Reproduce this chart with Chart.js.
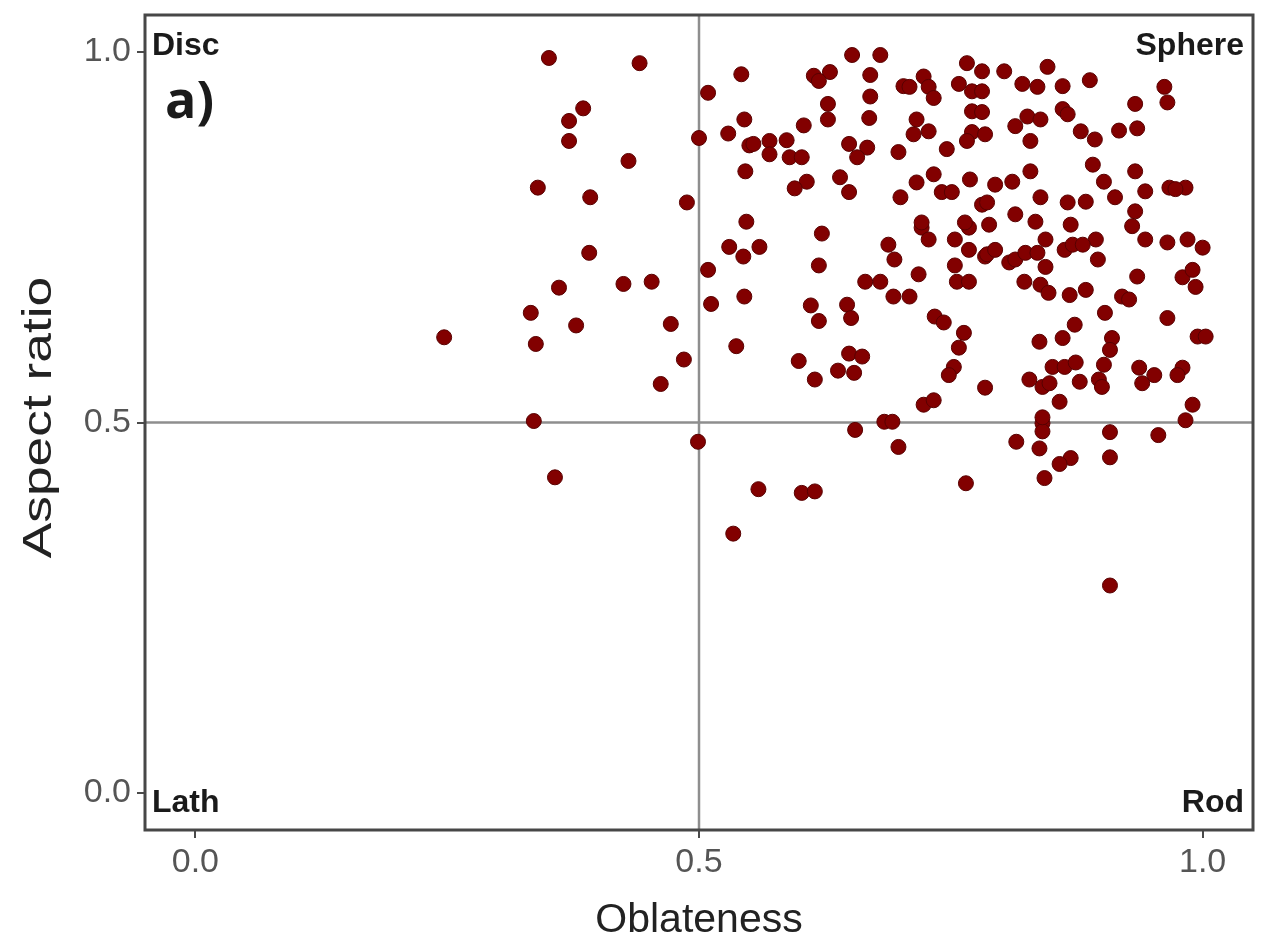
<!DOCTYPE html>
<html>
<head>
<meta charset="utf-8">
<script src="https://cdn.jsdelivr.net/npm/chart.js@4.4.0/dist/chart.umd.min.js"></script>
<style>
    html, body { margin: 0; padding: 0; background: #fff; }
    #wrap { width: 1267px; height: 951px; position: relative; }
</style>
</head>
<body>
<div id="wrap"><canvas id="shapeChart"></canvas></div>
<script>
// Particle shape data (oblateness vs aspect ratio)
const oblateness = [
    0.351, 0.441, 0.542, 0.509, 0.385, 0.545, 0.371, 0.529, 0.500, 0.550, 0.371, 0.430, 0.546, 0.340, 0.392, 0.488, 0.547,
    0.530, 0.544, 0.391, 0.509, 0.361, 0.425, 0.453, 0.545, 0.512, 0.333, 0.378, 0.472, 0.338, 0.537, 0.485, 0.462, 0.336,
    0.499, 0.357, 0.534, 0.247, 0.655, 0.684, 0.692, 0.698, 0.559, 0.602, 0.615, 0.765,
    0.841, 0.841, 0.908, 0.956, 0.983, 0.815, 0.838, 0.869, 0.858, 0.908, 0.843, 0.908,
    0.622, 0.560, 0.619, 0.721, 0.728, 0.754, 0.768, 0.768, 0.784, 0.688,
    0.694, 0.665, 0.680, 0.718, 0.754, 0.756, 0.768, 0.693, 0.709, 0.611,
    0.619, 0.647, 0.651, 0.734, 0.743, 0.763, 0.758, 0.599, 0.649, 0.662,
    0.638, 0.654, 0.615, 0.753, 0.748, 0.784, 0.723, 0.733,
    0.652, 0.680, 0.614, 0.630, 0.619, 0.670, 0.766, 0.781, 0.703, 0.709,
    0.723, 0.728, 0.733, 0.758, 0.771, 0.781, 0.670, 0.628, 0.628, 0.669,
    0.771, 0.781, 0.604, 0.716, 0.713, 0.728, 0.771, 0.766, 0.554, 0.570,
    0.587, 0.570, 0.590, 0.602, 0.649, 0.667, 0.657, 0.698, 0.746, 0.607,
    0.595, 0.640, 0.649, 0.716, 0.733, 0.741, 0.751, 0.769, 0.700, 0.781,
    0.721, 0.764,
    0.803, 0.846, 0.821, 0.836, 0.861, 0.888, 0.962, 0.965, 0.933, 0.861,
    0.866, 0.814, 0.826, 0.839, 0.784, 0.829, 0.879, 0.893, 0.917, 0.935,
    0.891, 0.902, 0.913, 0.933, 0.943, 0.967, 0.983, 0.973, 0.794, 0.811,
    0.829, 0.786, 0.839, 0.866, 0.884, 0.814, 0.834, 0.869, 0.933, 0.930,
    0.788,
    0.844, 0.863, 0.871, 0.894, 0.881, 0.943, 0.965, 0.985, 1.000, 0.786,
    0.794, 0.808, 0.814, 0.824, 0.836, 0.844, 0.896, 0.823, 0.839, 0.847,
    0.868, 0.884, 0.935, 0.920, 0.927, 0.980, 0.990, 0.993, 0.903, 0.965,
    0.873, 0.838, 0.861, 0.910, 0.908, 0.995, 1.003, 0.851, 0.863, 0.874,
    0.902, 0.937, 0.952, 0.980, 0.975, 0.828, 0.841, 0.848, 0.878, 0.897,
    0.900, 0.940, 0.858, 0.990, 0.841
];
const aspectRatio = [
    0.992, 0.985, 0.970, 0.945, 0.924, 0.909, 0.907, 0.890, 0.884, 0.874, 0.880, 0.853, 0.839, 0.817, 0.804, 0.797, 0.771,
    0.737, 0.724, 0.729, 0.706, 0.682, 0.687, 0.690, 0.670, 0.660, 0.648, 0.631, 0.633, 0.606, 0.603, 0.585, 0.552, 0.502,
    0.474, 0.426, 0.350, 0.615, 0.490, 0.501, 0.501, 0.467, 0.410, 0.405, 0.407, 0.418,
    0.499, 0.488, 0.487, 0.483, 0.503, 0.474, 0.465, 0.452, 0.444, 0.453, 0.425, 0.280,
    0.755, 0.737, 0.712, 0.763, 0.747, 0.747, 0.763, 0.733, 0.724, 0.740,
    0.720, 0.690, 0.690, 0.700, 0.712, 0.690, 0.690, 0.670, 0.670, 0.658,
    0.637, 0.659, 0.641, 0.643, 0.635, 0.621, 0.601, 0.583, 0.593, 0.589,
    0.570, 0.567, 0.558, 0.575, 0.564, 0.547, 0.524, 0.530,
    0.996, 0.996, 0.968, 0.973, 0.961, 0.969, 0.985, 0.974, 0.954, 0.953,
    0.967, 0.953, 0.938, 0.957, 0.947, 0.947, 0.940, 0.930, 0.909, 0.911,
    0.920, 0.919, 0.901, 0.909, 0.889, 0.893, 0.892, 0.880, 0.876, 0.880,
    0.881, 0.862, 0.858, 0.858, 0.876, 0.871, 0.858, 0.865, 0.869, 0.825,
    0.816, 0.831, 0.811, 0.824, 0.835, 0.811, 0.811, 0.828, 0.804, 0.794,
    0.770, 0.770,
    0.974, 0.980, 0.957, 0.953, 0.954, 0.962, 0.953, 0.932, 0.930, 0.923,
    0.916, 0.900, 0.913, 0.909, 0.889, 0.880, 0.893, 0.882, 0.894, 0.897,
    0.848, 0.825, 0.804, 0.839, 0.812, 0.817, 0.817, 0.815, 0.821, 0.825,
    0.839, 0.797, 0.804, 0.797, 0.798, 0.781, 0.771, 0.767, 0.785, 0.765,
    0.767,
    0.747, 0.733, 0.740, 0.747, 0.740, 0.747, 0.743, 0.747, 0.736, 0.727,
    0.733, 0.716, 0.720, 0.729, 0.729, 0.710, 0.720, 0.690, 0.686, 0.675,
    0.672, 0.679, 0.697, 0.670, 0.666, 0.696, 0.706, 0.683, 0.648, 0.641,
    0.632, 0.609, 0.614, 0.614, 0.598, 0.616, 0.616, 0.575, 0.575, 0.581,
    0.578, 0.574, 0.564, 0.574, 0.564, 0.558, 0.548, 0.553, 0.555, 0.558,
    0.548, 0.553, 0.528, 0.524, 0.507
];
const tickValues = [0, 0.5, 1.0];
const cornerLabels = ["Disc", "Sphere", "Lath", "Rod"];
const panelLabel = "a)";
const yTitle = "Aspect ratio";

const FONT = "'Liberation Sans', Arial, sans-serif";
Chart.defaults.font.family = FONT;

const points = oblateness.map((x, i) => ({ x: x, y: aspectRatio[i] }));

// reference lines, frame, corner labels and the (stretched) y title
const decorPlugin = {
    id: "decor",
    beforeDatasetsDraw(chart) {
        const { ctx, chartArea: a, scales } = chart;
        const xm = scales.x.getPixelForValue(0.5);
        const ym = scales.y.getPixelForValue(0.5);
        ctx.save();
        ctx.strokeStyle = "#8e8e8e";
        ctx.lineWidth = 2.5;
        ctx.beginPath();
        ctx.moveTo(xm, a.top);
        ctx.lineTo(xm, a.bottom);
        ctx.moveTo(a.left, ym);
        ctx.lineTo(a.right, ym);
        ctx.stroke();
        ctx.restore();
    },
    afterDatasetsDraw(chart) {
        const { ctx, chartArea: a } = chart;
        ctx.save();
        ctx.strokeStyle = "#474747";
        ctx.lineWidth = 3;
        ctx.strokeRect(a.left, a.top, a.right - a.left, a.bottom - a.top);

        ctx.fillStyle = "#1a1a1a";
        ctx.font = "bold 32px " + FONT;
        ctx.textBaseline = "alphabetic";
        ctx.textAlign = "left";
        ctx.fillText(cornerLabels[0], a.left + 7, a.top + 40);
        ctx.fillText(cornerLabels[2], a.left + 7, a.bottom - 18);
        ctx.textAlign = "right";
        ctx.fillText(cornerLabels[1], a.right - 9, a.top + 40);
        ctx.fillText(cornerLabels[3], a.right - 9, a.bottom - 18);

        ctx.textAlign = "left";
        ctx.font = "bold 52px 'Open Sans', sans-serif";
        ctx.fillText(panelLabel, a.left + 20, a.top + 103);
        ctx.restore();

        ctx.save();
        ctx.translate(40, (a.top + a.bottom) / 2 - 5);
        ctx.rotate(-Math.PI / 2);
        ctx.scale(1.3, 1);
        ctx.fillStyle = "#222";
        ctx.font = "41px " + FONT;
        ctx.textAlign = "center";
        ctx.textBaseline = "middle";
        ctx.fillText(yTitle, 0, 0);
        ctx.restore();
    }
};

const ctx = document.getElementById("shapeChart").getContext("2d");
new Chart(ctx, {
    type: "scatter",
    data: {
        datasets: [
            {
                data: points,
                pointRadius: 7.5,
                pointHoverRadius: 7.5,
                backgroundColor: "#820000",
                borderColor: "#580000",
                borderWidth: 1,
            },
        ],
    },
    options: {
        responsive: true,
        maintainAspectRatio: false,
        animation: false,
        layout: { padding: { top: 15, right: 14, left: 0, bottom: 0 } },
        plugins: {
            legend: { display: false },
            tooltip: { enabled: false },
        },
        scales: {
            x: {
                type: "linear",
                min: -0.05,
                max: 1.05,
                afterBuildTicks: (s) => { s.ticks = tickValues.map((v) => ({ value: v })); },
                afterFit: (s) => {
                    s.height = 121;
                    s.paddingLeft = 0;
                    s.paddingRight = 0;
                },
                border: { display: false },
                grid: { drawOnChartArea: false, drawTicks: true, tickLength: 8, color: "#4a4a4a", lineWidth: 2 },
                ticks: {
                    callback: (v) => v.toFixed(1),
                    color: "#555",
                    font: { size: 34 },
                    padding: 4,
                    maxRotation: 0,
                },
                title: {
                    display: true,
                    text: "Oblateness",
                    color: "#222",
                    font: { size: 41 },
                    padding: { top: 0, bottom: 6 },
                },
            },
            y: {
                type: "linear",
                min: -0.05,
                max: 1.05,
                afterBuildTicks: (s) => { s.ticks = tickValues.map((v) => ({ value: v })); },
                afterFit: (s) => {
                    s.width = 145;
                    s.paddingTop = 0;
                    s.paddingBottom = 0;
                },
                border: { display: false },
                grid: { drawOnChartArea: false, drawTicks: true, tickLength: 8, color: "#4a4a4a", lineWidth: 2 },
                ticks: {
                    callback: (v) => v.toFixed(1),
                    color: "#555",
                    font: { size: 34 },
                    padding: 6,
                },
                title: { display: false },
            },
        },
    },
    plugins: [decorPlugin],
});
</script>
</body>
</html>
